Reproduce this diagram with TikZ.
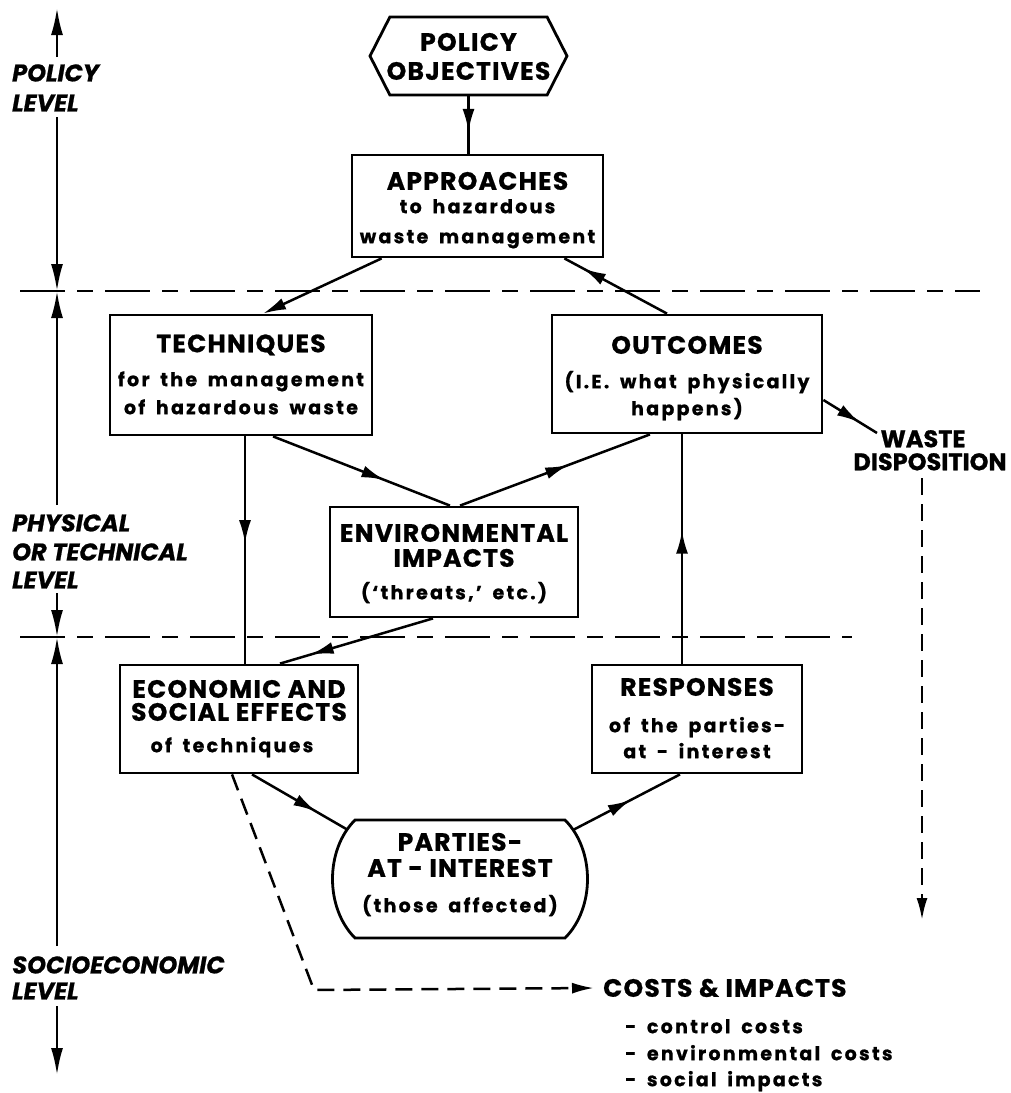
\documentclass[tikz,border=0pt]{standalone}
\usepackage{fontspec}
\setmainfont{Poppins}
\newfontfamily\hdfamily{Poppins}[LetterSpace=5, FakeBold=0.8]
\newfontfamily\sbfamily{Poppins}[LetterSpace=12, WordSpace=1.7, FakeBold=0.8]
\newfontfamily\lvfamily{Poppins}[FakeBold=0.8]
\usetikzlibrary{arrows.meta,decorations.markings,shapes.symbols,calc}
\newcommand\hdfont{\hdfamily\bfseries\fontsize{25}{28}\selectfont}
\newcommand\wsfont{\lvfamily\bfseries\fontsize{24}{26}\selectfont}
\newcommand\sbfont{\sbfamily\bfseries\fontsize{19}{22}\selectfont}
\newcommand\lvfont{\lvfamily\bfseries\itshape\fontsize{24}{28}\selectfont}
\tikzset{
  boxline/.style={line width=2.8pt, line join=miter},
  box/.style={draw, boxline, inner sep=0pt},
  hd/.style={font=\hdfont, inner sep=0pt, text height=17.5pt, text depth=0pt},
  ws/.style={font=\wsfont, inner sep=0pt, text height=16.5pt, text depth=0pt},
  sb/.style={font=\sbfont, inner sep=0pt, text height=10.4pt, text depth=0pt},
  lvl/.style={font=\lvfont, inner sep=0pt, anchor=west, text height=16.8pt, text depth=0pt},
  link/.style={line width=2.5pt},
  midarrow/.style={link, postaction={decorate},
    decoration={markings, mark=at position #1 with {\arrow{Latex[length=23pt,width=12pt]}}}},
  endarrow/.style={link, -{Latex[length=23pt,width=12pt]}},
  axis/.style={line width=2.5pt, -{Latex[length=27pt,width=12pt]}},
  sep/.style={line width=2.5pt, dash pattern=on 45pt off 12pt on 16pt off 12pt},
  trail/.style={line width=2.5pt, dash pattern=on 17pt off 9pt, -{Latex[length=22pt,width=11pt]}},
}
\begin{document}
\begin{tikzpicture}[x=1pt,y=-1pt]
\useasboundingbox (0,0) rectangle (1011,1093);
\fill[white] (0,0) rectangle (1011,1093);

% level separators
\coordinate (s1w) at (20,291); \coordinate (s1e) at (980,291);
\coordinate (s2w) at (20,637); \coordinate (s2e) at (852,637);
\draw[sep] (s1w) -- (s1e);
\draw[sep] (s2w) -- (s2e);

% level axis on the left
\coordinate (a0) at (57,8);    \coordinate (a1) at (57,57);
\coordinate (a2) at (57,117);  \coordinate (a3) at (57,291);
\coordinate (a4) at (57,291);  \coordinate (a5) at (57,505);
\coordinate (a6) at (57,593);  \coordinate (a7) at (57,637);
\coordinate (a8) at (57,637);  \coordinate (a9) at (57,946);
\coordinate (a10) at (57,1006);\coordinate (a11) at (57,1075);
\draw[axis] (a1) -- (a0);
\draw[axis] (a2) -- (a3);
\draw[axis] (a5) -- (a4);
\draw[axis] (a6) -- (a7);
\draw[axis] (a9) -- (a8);
\draw[axis] (a10) -- (a11);

\node[lvl] (lp1) at (12,73) {POLICY};
\node[lvl] (lp2) at (12,103) {LEVEL};
\node[lvl] (lt1) at (12,523) {PHYSICAL};
\node[lvl] (lt2) at (12,552) {OR TECHNICAL};
\node[lvl] (lt3) at (12,580) {LEVEL};
\node[lvl] (ls1) at (12,965) {SOCIOECONOMIC};
\node[lvl] (ls2) at (12,991) {LEVEL};

% policy objectives
\node[box, signal, signal to=west and east, signal pointer angle=126,
      minimum width=197pt, minimum height=78pt] (pol) at (468.5,56) {};
\node[hd] (pol1) at (468.5,42) {POLICY};
\node[hd] (pol2) at (468.5,71) {OBJECTIVES};

% approaches
\node[box, minimum width=251pt, minimum height=102pt] (app) at (477.5,206) {};
\node[hd] (app1) at (477.5,181) {APPROACHES};
\node[sb] (app2) at (477.5,208) {to hazardous};
\node[sb] (app3) at (477.5,238) {waste management};

% techniques
\node[box, minimum width=262pt, minimum height=120pt] (tech) at (241,375) {};
\node[hd] (tech1) at (241,343.5) {TECHNIQUES};
\node[sb] (tech2) at (241,381) {for the management};
\node[sb] (tech3) at (241,409) {of hazardous waste};

% outcomes
\node[box, minimum width=270pt, minimum height=118pt] (out) at (687,374) {};
\node[hd] (out1) at (687,345) {OUTCOMES};
\node[sb] (out2) at (687,383) {(I.E. what physically};
\node[sb] (out3) at (687,410) {happens)};

% environmental impacts
\node[box, minimum width=248pt, minimum height=110pt] (env) at (454,562) {};
\node[hd] (env1) at (454,533) {ENVIRONMENTAL};
\node[hd] (env2) at (454,558) {IMPACTS};
\node[sb] (env3) at (454,594) {(‘threats,’ etc.)};

% economic and social effects
\node[box, minimum width=238pt, minimum height=108pt] (econ) at (239,719) {};
\node[hd] (econ1) at (239,689) {ECONOMIC AND};
\node[hd] (econ2) at (239,712) {SOCIAL EFFECTS};
\node[sb] (econ3) at (232,747) {of techniques};

% responses
\node[box, minimum width=210pt, minimum height=108pt] (resp) at (697,719) {};
\node[hd] (resp1) at (697,687) {RESPONSES};
\node[sb] (resp2) at (697,727) {of the parties-};
\node[sb] (resp3) at (697,753) {at - interest};

% parties-at-interest: flat top and bottom, bulging sides
\draw[boxline] (355,820) -- (565,820) .. controls (595,850) and (595,908) .. (565,938)
  -- (355,938) .. controls (325,908) and (325,850) .. (355,820) -- cycle;
\node[hd] (par1) at (460,842) {PARTIES-};
\node[hd] (par2) at (460,868) {AT - INTEREST};
\node[sb] (par3) at (460,907) {(those affected)};
\coordinate (pl) at (348,830);
\coordinate (pr) at (573,830);

% waste disposition
\node[ws] (wst1) at (923,439) {WASTE};
\node[ws] (wst2) at (930,462) {DISPOSITION};

% costs and impacts
\node[hd, anchor=west] (costs) at (603,988) {COSTS \& IMPACTS};
\node[sb, anchor=west] (cst1) at (625,1028) {- control costs};
\node[sb, anchor=west] (cst2) at (625,1055) {- environmental costs};
\node[sb, anchor=west] (cst3) at (625,1081) {- social impacts};

% connectors
\draw[midarrow=0.62] (pol.south) -- (pol.south |- app.north);
\draw[endarrow] ($(app.south west)+(31,0)$) -- ($(tech.north)+(22,0)$);
\draw[midarrow=0.82] ($(out.north)+(-20,0)$) -- ($(app.south east)+(-40,0)$);
\coordinate (t1) at ($(tech.south)+(4,0)$);
\draw[midarrow=0.47] (t1) -- (t1 |- econ.north);
\draw[midarrow=0.63] ($(tech.south)+(32,0)$) -- ($(env.north)+(-4,0)$);
\draw[midarrow=0.57] ($(env.north)+(6,0)$) -- ($(out.south)+(-37,0)$);
\draw[midarrow=0.8] ($(env.south)+(-21,0)$) -- ($(econ.north)+(41,0)$);
\coordinate (r1) at ($(resp.north)+(-15,0)$);
\draw[midarrow=0.58] (r1) -- (r1 |- out.south);
\coordinate (wd) at (877,433);
\draw[midarrow=0.68] ($(out.east)+(0,26)$) -- (wd);
\draw[midarrow=0.67] ($(econ.south)+(13,0)$) -- (pl);
\draw[midarrow=0.54] (pr) -- ($(resp.south)+(-17,0)$);

% dashed trails
\coordinate (cc) at (314,990);
\draw[trail] ($(econ.south)+(-7,0)$) -- (cc) -- ($(costs.west)+(-9,0)$);
\coordinate (wv0) at (922,478);
\coordinate (wv1) at (922,920);
\draw[trail] (wv0) -- (wv1);
\end{tikzpicture}
\end{document}
